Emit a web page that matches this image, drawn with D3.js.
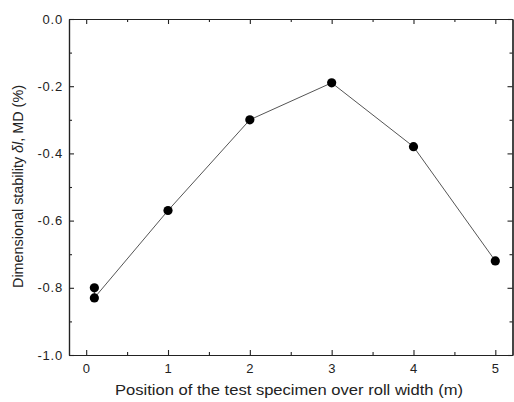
<!DOCTYPE html>
<html><head><meta charset="utf-8">
<script src="https://cdn.jsdelivr.net/npm/d3@7"></script>
<style>body{margin:0;background:#fff}svg{display:block}text{font-family:"Liberation Sans",Arial,sans-serif;fill:#222}</style>
</head><body>
<script>
const positions = [0.1, 0.1, 1, 2, 3, 4, 5];
const stability = [-0.80, -0.83, -0.57, -0.30, -0.19, -0.38, -0.72];
const xTicks = [0, 1, 2, 3, 4, 5];
const yTicks = [0.0, -0.2, -0.4, -0.6, -0.8, -1.0];
const xMinor = [0.5, 1.5, 2.5, 3.5, 4.5];
const yMinor = [-0.1, -0.3, -0.5, -0.7, -0.9];

const W = 514, H = 402;
const m = {l: 69, r: 1.5, t: 19, b: 47};
const svg = d3.select("body").append("svg").attr("width", W).attr("height", H);
const x = d3.scaleLinear().domain([-0.21, 5.21]).range([m.l, W - m.r]);
const y = d3.scaleLinear().domain([-1.0, 0.0]).range([H - m.b, m.t]);
const data = positions.map((p, i) => ({x: p, y: stability[i]}));

function ax(gen, tr, ticks, size, labels, pad) {
  const g = svg.append("g").attr("transform", tr)
    .call(gen.tickValues(ticks).tickSizeInner(-size).tickSizeOuter(0).tickPadding(labels ? pad : 0)
      .tickFormat(labels ? labels : () => ""));
  g.select(".domain").attr("stroke", "#222").attr("stroke-width", 1.2);
  g.selectAll(".tick line").attr("stroke", "#222").attr("stroke-width", 1.1);
  g.selectAll("text").style("font-size", "13px").style("letter-spacing", "0.8px");
  return g;
}
const bx = `translate(0,${H - m.b})`, tx = `translate(0,${m.t})`;
const ly = `translate(${m.l},0)`, ry = `translate(${W - m.r},0)`;
ax(d3.axisBottom(x), bx, xTicks, 5, d => String(d), 9);
ax(d3.axisBottom(x), bx, xMinor, 3, null);
ax(d3.axisTop(x), tx, xTicks, 5, null);
ax(d3.axisTop(x), tx, xMinor, 3, null);
ax(d3.axisLeft(y), ly, yTicks, 5, d => (Math.abs(d) < 1e-9 ? 0 : d).toFixed(1), 6);
ax(d3.axisLeft(y), ly, yMinor, 3, null);
ax(d3.axisRight(y), ry, yTicks, 5, null);
ax(d3.axisRight(y), ry, yMinor, 3, null);

svg.append("path").datum(data)
  .attr("d", d3.line().x(d => x(d.x)).y(d => y(d.y)))
  .attr("fill", "none").attr("stroke", "#555").attr("stroke-width", 1);
svg.selectAll("circle.pt").data(data).enter().append("circle")
  .attr("cx", d => x(d.x)).attr("cy", d => y(d.y)).attr("r", 4.6).attr("fill", "#000");

svg.append("text").attr("x", 115).attr("y", 394.5)
  .attr("textLength", 348).attr("lengthAdjust", "spacingAndGlyphs")
  .style("font-size", "14px")
  .text("Position of the test specimen over roll width (m)");
const yl = svg.append("text").attr("transform", `translate(22.5,288) rotate(-90)`)
  .attr("textLength", 203).attr("lengthAdjust", "spacingAndGlyphs")
  .style("font-size", "14px");
yl.append("tspan").text("Dimensional stability ");
yl.append("tspan").style("font-style", "italic").text("δl");
yl.append("tspan").text(", MD (%)");
</script>
</body></html>
